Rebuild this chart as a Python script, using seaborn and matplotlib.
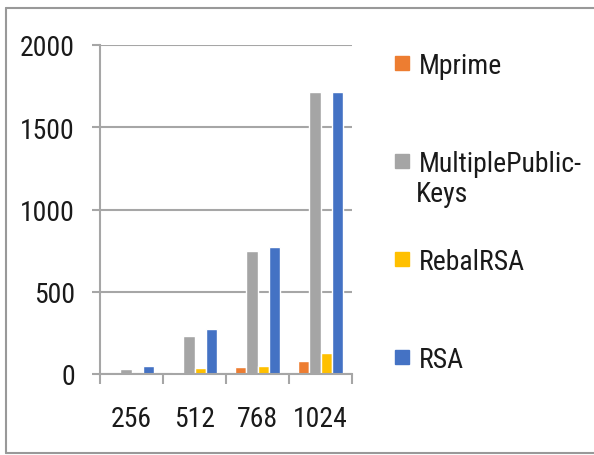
import numpy as np
import pandas as pd
import matplotlib.pyplot as plt
from matplotlib.lines import Line2D
import seaborn as sns

# key sizes on the x axis
key_sizes = ['256', '512', '768', '1024']
# one list per algorithm
mprime = [0, 14, 40, 80]
multiple_public_keys = [30, 232, 750, 1715]
rebal_rsa = [0, 34, 50, 127]
rsa = [50, 273, 770, 1715]

series = ['Mprime', 'MultiplePublic-Keys', 'RebalRSA', 'RSA']
colors = ['#ED7D31', '#A5A5A5', '#FFC000', '#4472C4']

df = pd.DataFrame({
    'size': key_sizes * 4,
    'algo': [s for s in series for _ in key_sizes],
    'value': mprime + multiple_public_keys + rebal_rsa + rsa,
})

sns.set_style('white')
plt.rcParams['font.family'] = ['Roboto Condensed', 'Roboto', 'DejaVu Sans']
grid_col = '#A6A6A6'
txt_col = '#1A1A1A'

fig = plt.figure(figsize=(5.94, 4.56), dpi=100)
ax = fig.add_axes([100 / 594, 1 - 375 / 456, 252 / 594, 329 / 456])

sns.barplot(data=df, x='size', y='value', hue='algo', hue_order=series,
            palette=colors, width=0.72, saturation=1, legend=False, ax=ax)

ax.set_xlim(-0.5, 3.5)
ax.set_ylim(0, 2000)
ax.set_yticks([0, 500, 1000, 1500, 2000])
ax.set_xlabel('')
ax.set_ylabel('')
ax.yaxis.grid(True, color=grid_col, linewidth=1.5)
ax.set_axisbelow(True)
for side in ['top', 'right']:
    ax.spines[side].set_visible(False)
for side in ['left', 'bottom']:
    ax.spines[side].set_color(grid_col)
    ax.spines[side].set_linewidth(1.5)

ax.tick_params(axis='y', length=6, width=1.5, color=grid_col, pad=12,
               labelsize=20, labelcolor=txt_col, direction='out', left=True)
ax.tick_params(axis='x', which='major', length=0, pad=22,
               labelsize=20, labelcolor=txt_col)
ax.set_xticks([-0.5, 0.5, 1.5, 2.5, 3.5], minor=True)
ax.tick_params(axis='x', which='minor', length=7, width=1.5,
               color=grid_col, direction='out', bottom=True)

# legend on the right, one entry per series
handles = [Line2D([0], [0], marker='s', linestyle='', markersize=10,
                  markerfacecolor=c, markeredgecolor=c) for c in colors]
labels = ['Mprime', 'MultiplePublic-', 'RebalRSA', 'RSA']
fig.legend(handles, labels, loc='upper left',
           bbox_to_anchor=(383 / 594, 1 - 42 / 456), frameon=False,
           fontsize=20, labelspacing=2.55, handlelength=0.6,
           handletextpad=0.3, borderaxespad=0, labelcolor=txt_col)
fig.text(416 / 594, 1 - 195 / 456, 'Keys', fontsize=20, color=txt_col,
         va='center', ha='left')

# thin frame around the picture
fig.add_artist(Line2D([6 / 594, 6 / 594], [1 - 9 / 456, 1 - 454 / 456],
                      color='#999999', linewidth=1.5))
fig.add_artist(Line2D([6 / 594, 1], [1 - 9 / 456, 1 - 9 / 456],
                      color='#999999', linewidth=1.5))
fig.add_artist(Line2D([6 / 594, 1], [1 - 454 / 456, 1 - 454 / 456],
                      color='#999999', linewidth=1.5))

fig.savefig('out.png', dpi=100)
